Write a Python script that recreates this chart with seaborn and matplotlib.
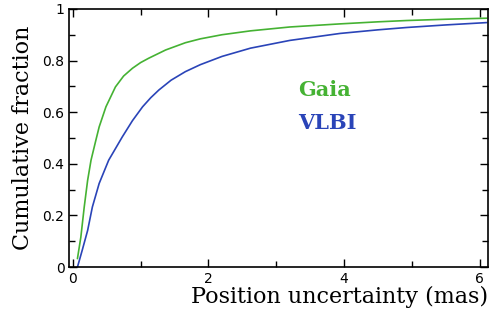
import numpy as np
import pandas as pd

import matplotlib
matplotlib.use('Agg')
import matplotlib.pyplot as plt
import seaborn as sns
from matplotlib.ticker import MultipleLocator

# cumulative distributions
gaia_x = [0.07, 0.12, 0.17, 0.22, 0.27, 0.34, 0.39, 0.49, 0.63, 0.75, 0.88, 1.0, 1.12, 1.37, 1.66, 1.88, 2.2, 2.62, 3.2, 3.94, 4.5, 4.92, 5.5, 6.1]
gaia_y = [0.033, 0.116, 0.233, 0.336, 0.414, 0.49, 0.543, 0.621, 0.698, 0.74, 0.77, 0.792, 0.809, 0.841, 0.869, 0.884, 0.9, 0.915, 0.93, 0.942, 0.95, 0.955, 0.96, 0.964]
vlbi_x = [0.07, 0.14, 0.22, 0.29, 0.39, 0.53, 0.73, 0.88, 1.03, 1.15, 1.27, 1.45, 1.66, 1.88, 2.2, 2.62, 3.2, 3.94, 4.5, 4.92, 5.5, 6.1]
vlbi_y = [0.0, 0.065, 0.142, 0.233, 0.324, 0.414, 0.504, 0.567, 0.621, 0.656, 0.686, 0.724, 0.757, 0.784, 0.816, 0.848, 0.878, 0.905, 0.919, 0.928, 0.938, 0.947]

green = '#45b233'
blue = '#2a44b8'

df = pd.concat([
    pd.DataFrame({'x': gaia_x, 'y': gaia_y, 'src': 'Gaia'}),
    pd.DataFrame({'x': vlbi_x, 'y': vlbi_y, 'src': 'VLBI'}),
])

sns.set_style('ticks')
plt.rcParams['font.family'] = ['DejaVu Sans']
plt.rcParams['text.color'] = 'black'
plt.rcParams['axes.labelcolor'] = 'black'
plt.rcParams['xtick.color'] = 'black'
plt.rcParams['ytick.color'] = 'black'
plt.rcParams['axes.edgecolor'] = 'black'

fig, ax = plt.subplots(figsize=(4.95, 3.18), dpi=100)
fig.subplots_adjust(left=0.14, right=0.986, top=0.972, bottom=0.16)

sns.lineplot(data=df, x='x', y='y', hue='src', palette={'Gaia': green, 'VLBI': blue},
             linewidth=1.2, legend=False, ax=ax, estimator=None, sort=True)

ax.set_xlim(-0.05, 6.12)
ax.set_ylim(0, 1)
ax.set_xticks([0, 2, 4, 6])
ax.set_xticklabels(['0', '2', '4', '6'])
ax.set_yticks([0, 0.2, 0.4, 0.6, 0.8, 1])
ax.set_yticklabels(['0', '0.2', '0.4', '0.6', '0.8', '1'])
ax.xaxis.set_minor_locator(MultipleLocator(1))
ax.yaxis.set_minor_locator(MultipleLocator(0.1))
ax.tick_params(which='both', direction='in', top=True, right=True, labelsize=10, width=1)
ax.tick_params(which='major', length=6)
ax.tick_params(which='minor', length=4)
for s in ax.spines.values():
    s.set_linewidth(1.2)

ax.set_xlabel('Position uncertainty (mas)', family='DejaVu Serif', fontsize=16, loc='right', labelpad=0)
ax.set_ylabel('Cumulative fraction', family='DejaVu Serif', fontsize=16, labelpad=6)

ax.text(3.32, 0.686, 'Gaia', color=green, family='DejaVu Serif', fontweight='bold', fontsize=15, va='center')
ax.text(3.32, 0.56, 'VLBI', color=blue, family='DejaVu Serif', fontweight='bold', fontsize=15, va='center')

plt.savefig('out.png', dpi=100)
plt.close()
